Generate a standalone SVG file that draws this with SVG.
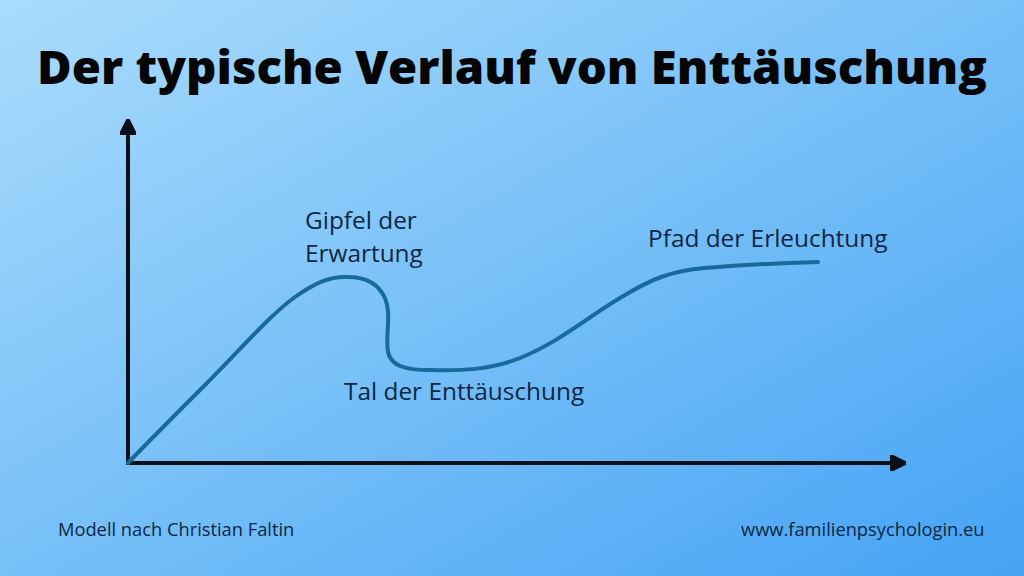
<svg xmlns="http://www.w3.org/2000/svg" width="1024" height="576" viewBox="0 0 1024 576">
  <defs>
    <linearGradient id="bg" x1="0" y1="0" x2="1" y2="1">
      <stop offset="0" stop-color="#a9dcfc"/>
      <stop offset="1" stop-color="#45a3f4"/>
    </linearGradient>
    <marker id="ah" viewBox="0 0 10 10" refX="2" refY="5" markerWidth="4.2" markerHeight="4.2" orient="auto" markerUnits="strokeWidth">
      <path d="M0,0 L10,5 L0,10 Z" fill="#0b0f18" stroke="#0b0f18" stroke-width="1.5" stroke-linejoin="round"/>
    </marker>
    <style>
      .title{font-family:"Open Sans","Liberation Sans",sans-serif;font-weight:800;font-size:46px;fill:#050505}
      .lbl{font-family:"Open Sans","Liberation Sans",sans-serif;font-size:24.4px;fill:#0f2742}
      .foot{font-family:"Open Sans","Liberation Sans",sans-serif;font-size:18.3px;fill:#0f2742}
      .axis{stroke:#0b0f18;stroke-width:4;fill:none}
      .curve{stroke:#176a9b;stroke-width:4;fill:none;stroke-linecap:round;stroke-linejoin:round}
    </style>
  </defs>
  <rect width="1024" height="576" fill="url(#bg)"/>
  <g id="title"><text class="title" x="512" y="84" text-anchor="middle" textLength="950" lengthAdjust="spacingAndGlyphs">Der typische Verlauf von Enttäuschung</text></g>
  <g id="connectors">
    <path class="axis" d="M128,463 L128,132" marker-end="url(#ah)"/>
    <path class="axis" d="M126,463 L893,463" marker-end="url(#ah)"/>
    <path class="curve" d="M128,463 C150,440 170,420 200,390 C240,350 270,315 295,297 C315,283 330,276 348,277 C365,277 378,283 385,298 C392,315 385,335 388,352 C391,366 405,370 430,370 C460,371 490,370 520,358 C560,342 590,315 625,295 C650,280 670,271 705,268 C740,265 780,263 818,262"/>
  </g>
  <g id="peak"><text class="lbl" x="305" y="229">Gipfel der</text><text class="lbl" x="305" y="262">Erwartung</text></g>
  <g id="valley"><text class="lbl" x="344" y="400">Tal der Enttäuschung</text></g>
  <g id="path"><text class="lbl" x="648" y="247">Pfad der Erleuchtung</text></g>
  <g id="footer">
    <text class="foot" x="58" y="536">Modell nach Christian Faltin</text>
    <text class="foot" x="741" y="536">www.familienpsychologin.eu</text>
  </g>
</svg>
